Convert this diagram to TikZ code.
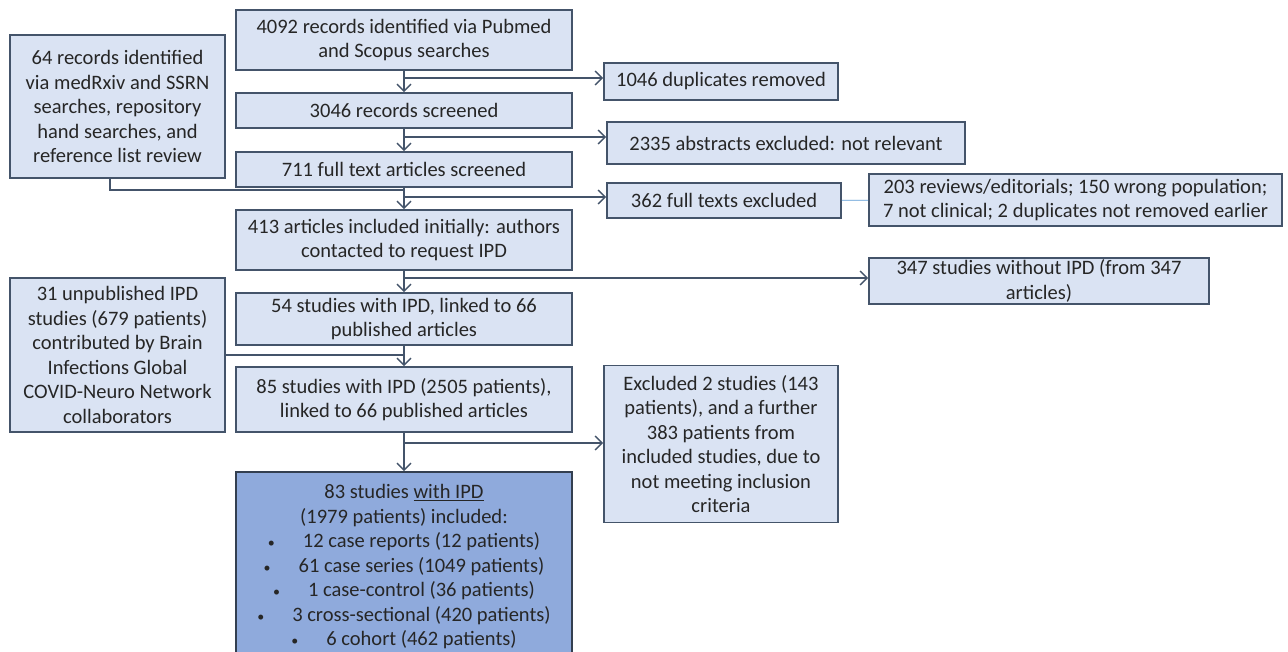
\documentclass[tikz,border=0pt]{standalone}
\usepackage{fontspec}
\setmainfont{Carlito}
\usetikzlibrary{arrows.meta}
\definecolor{boxfill}{HTML}{DAE3F3}
\definecolor{boxline}{HTML}{44546A}
\definecolor{finalfill}{HTML}{8FAADC}
\definecolor{finalline}{HTML}{333F50}
\definecolor{txt}{HTML}{262626}
\definecolor{thinblue}{HTML}{5B9BD5}
\newcommand{\smbul}{{\fontsize{14}{14}\selectfont\textbullet}\hspace{28pt}}
\tikzset{
  box/.style={draw=boxline, fill=boxfill, line width=1.6pt, inner sep=0pt,
    align=center, text=txt, font=\fontsize{20.5}{24.5}\selectfont},
  finalbox/.style={box, fill=finalfill, draw=finalline},
  conn/.style={draw=boxline, line width=1.6pt},
  arr/.style={conn, -{Straight Barb[length=7pt,width=14pt,line width=1.4pt]}},
  thin/.style={draw=thinblue, line width=0.8pt}
}
\begin{document}
\begin{tikzpicture}[x=1pt,y=-1pt]
\clip (0,0) rectangle (1288,652);
\fill[white] (0,0) rectangle (1288,652);
% main column
\node[box, minimum width=336, minimum height=60] (A) at (404,40) {4092 records identified via Pubmed\\and Scopus searches};
\node[box, minimum width=336, minimum height=35] (B) at (404,110.5) {3046 records screened};
\node[box, minimum width=336, minimum height=35] (C) at (404,169.5) {711 full text articles screened};
\node[box, minimum width=336, minimum height=60] (D) at (404,240) {413 articles included initially: authors\\contacted to request IPD};
\node[box, minimum width=336, minimum height=52] (E) at (404,319) {54 studies with IPD, linked to 66\\published articles};
\node[box, minimum width=336, minimum height=65] (F) at (404,399.5) {85 studies with IPD (2505 patients),\\linked to 66 published articles};
\node[finalbox, minimum width=336, minimum height=190] (G) at (404,567) {83 studies \underline{with IPD}\\(1979 patients) included:\\
\smbul 12 case reports (12 patients)\\
\smbul 61 case series (1049 patients)\\
\smbul 1 case-control (36 patients)\\
\smbul 3 cross-sectional (420 patients)\\
\smbul 6 cohort (462 patients)};
% left column
\node[box, minimum width=215, minimum height=143] (L1) at (117.5,106.5) {64 records identified\\via medRxiv and SSRN\\searches, repository\\hand searches, and\\reference list review};
\node[box, minimum width=215, minimum height=154] (L2) at (117.5,355) {31 unpublished IPD\\studies (679 patients)\\contributed by Brain\\Infections Global\\COVID-Neuro Network\\collaborators};
% right column
\node[box, minimum width=234, minimum height=37] (R1) at (721,81.5) {1046 duplicates removed};
\node[box, minimum width=358, minimum height=42] (R2) at (786,143) {2335 abstracts excluded: not relevant};
\node[box, minimum width=234, minimum height=35] (R3) at (724,200.5) {362 full texts excluded};
\node[box, minimum width=413, minimum height=52] (R4) at (1075.5,200) {203 reviews/editorials; 150 wrong population;\\7 not clinical; 2 duplicates not removed earlier};
\node[box, minimum width=340, minimum height=46] (R5) at (1039,281) {347 studies without IPD (from 347\\articles)};
\node[box, minimum width=234, minimum height=157] (R6) at (721,444) {Excluded 2 studies (143\\patients), and a further\\383 patients from\\included studies, due to\\not meeting inclusion\\criteria};
% junction coordinates
\coordinate (j1) at (404,78);
\coordinate (j2) at (404,137);
\coordinate (j3a) at (404,190);
\coordinate (j3) at (404,197);
\coordinate (j4) at (404,278);
\coordinate (j5) at (404,355);
\coordinate (j6) at (404,443);
\coordinate (l1o) at (110,178);
% connectors
\draw[arr] (A) -- (B);
\draw[arr] (B) -- (C);
\draw[arr] (C) -- (D);
\draw[arr] (D) -- (E);
\draw[arr] (E) -- (F);
\draw[arr] (F) -- (G);
\draw[arr] (j1) -- (j1 -| R1.west);
\draw[arr] (j2) -- (j2 -| R2.west);
\draw[arr] (j3) -- (j3 -| R3.west);
\draw[conn] (l1o) |- (j3a);
\draw[thin] (R3) -- (R4);
\draw[arr] (j4) -- (j4 -| R5.west);
\draw[conn] (L2.east) -- (j5);
\draw[arr] (j6) -- (j6 -| R6.west);
\end{tikzpicture}
\end{document}
